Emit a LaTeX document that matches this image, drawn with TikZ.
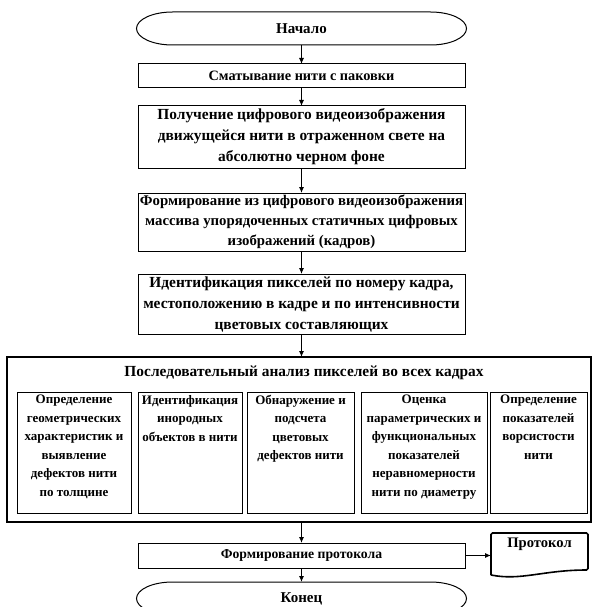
\documentclass[tikz,border=0pt]{standalone}
\usepackage{fontspec}
\setmainfont{Liberation Serif}
\usetikzlibrary{arrows.meta,calc}
\newcommand{\mainsz}{\fontsize{15.4}{21}\selectfont}
\newcommand{\insz}{\fontsize{13}{18.5}\selectfont}
\newcommand{\smallsz}{\fontsize{14.3}{16}\selectfont}
\begin{document}
\begin{tikzpicture}[x=1pt,y=-1pt,
  every node/.style={font=\bfseries, inner sep=0pt, outer sep=0pt},
  box/.style={draw, line width=1pt, align=center, font=\bfseries\mainsz},
  termtext/.style={minimum width=330pt, minimum height=33pt, font=\bfseries\fontsize{15}{16}\selectfont},
  termline/.style={line width=1pt},
  inbox/.style={draw, line width=1pt, minimum height=121pt},
  intext/.style={align=center, font=\bfseries\insz},
  arr/.style={line width=1pt, -{Latex[length=6pt,width=5pt]}}
]
\useasboundingbox (0,0) rectangle (592,607);
\clip (0,0) rectangle (592,607);

% terminators
\node[termtext] (st) at (301.5,28.5) {Начало};
\draw[termline] ([xshift=36pt]st.north west) -- ([xshift=-36pt]st.north east)
  arc[start angle=90,end angle=-90,x radius=36pt,y radius=16.5pt]
  -- ([xshift=36pt]st.south west)
  arc[start angle=270,end angle=90,x radius=36pt,y radius=16.5pt] -- cycle;

\node[box, minimum width=327pt, minimum height=24pt, font=\bfseries\smallsz] (b2) at (301.5,76) {Сматывание нити с паковки};
\node[box, minimum width=327pt, minimum height=62pt] (b3) at (301.5,137)
  {Получение цифрового видеоизображения\\движущейся нити в отраженном свете на\\абсолютно черном фоне};
\node[box, minimum width=327pt, minimum height=58pt, font=\bfseries\fontsize{14.8}{20}\selectfont] (b4) at (301.5,222)
  {Формирование из цифрового видеоизображения\\массива упорядоченных статичных цифровых\\изображений (кадров)};
\node[box, minimum width=327pt, minimum height=60pt] (b5) at (301.5,304)
  {Идентификация пикселей по номеру кадра,\\местоположению в кадре и по интенсивности\\цветовых составляющих};

% big box
\node[draw, line width=1.2pt, minimum width=584pt, minimum height=165pt] (big) at (299,439.5) {};
\node[font=\bfseries\mainsz] (title) at (304,373) {Последовательный анализ пикселей во всех кадрах};

\node[inbox, minimum width=114pt, label={[intext,anchor=north,yshift=-3pt]north:{Определение\\геометрических\\характеристик и\\выявление\\дефектов нити\\по толщине}}] (ia) at (74,452.5) {};
\node[inbox, minimum width=104pt, label={[intext,anchor=north,yshift=-3pt]north:{Идентификация\\инородных\\объектов в нити}}] (ib) at (190,452.5) {};
\node[inbox, minimum width=107pt, label={[intext,anchor=north,yshift=-3pt]north:{Обнаружение и\\подсчета\\цветовых\\дефектов нити}}] (ic) at (300.5,452.5) {};
\node[inbox, minimum width=126pt, label={[intext,anchor=north,yshift=-3pt]north:{Оценка\\параметрических и\\функциональных\\показателей\\неравномерности\\нити по диаметру}}] (id) at (424,452.5) {};
\node[inbox, minimum width=97pt, label={[intext,anchor=north,yshift=-3pt]north:{Определение\\показателей\\ворсистости\\нити}}] (ie) at (538.5,452.5) {};

\node[box, minimum width=327pt, minimum height=25pt, font=\bfseries\fontsize{13.7}{16}\selectfont] (form) at (301.5,555.5) {Формирование протокола};

% document
\node[minimum width=97pt, minimum height=42pt, label={[font=\bfseries\fontsize{14.6}{16}\selectfont,anchor=north,yshift=-5pt]north:Протокол}] (doc) at (539.5,554) {};
\draw[line width=1.6pt, rounded corners=1.5pt] (doc.south west) -- (doc.north west) -- (doc.north east) -- ([yshift=5pt]doc.south east)
  [rounded corners=0pt] .. controls ([xshift=-45pt,yshift=5pt]doc.south east) and ([xshift=30pt,yshift=-6pt]doc.south west) .. (doc.south west);

\node[termtext] (en) at (301.5,598.5) {Конец};
\draw[termline] ([xshift=36pt]en.north west) -- ([xshift=-36pt]en.north east)
  arc[start angle=90,end angle=-90,x radius=36pt,y radius=16.5pt]
  -- ([xshift=36pt]en.south west)
  arc[start angle=270,end angle=90,x radius=36pt,y radius=16.5pt] -- cycle;

% connectors
\draw[arr] (st.south) -- (b2.north);
\draw[arr] (b2.south) -- (b3.north);
\draw[arr] (b3.south) -- (b4.north);
\draw[arr] (b4.south) -- (b5.north);
\draw[arr] (b5.south) -- (b5.south |- big.north);
\draw[arr] (big.south -| form.north) -- (form.north);
\draw[arr] (form.south) -- (en.north);
\draw[arr] (form.east) -- (form.east -| doc.west);
\end{tikzpicture}
\end{document}
